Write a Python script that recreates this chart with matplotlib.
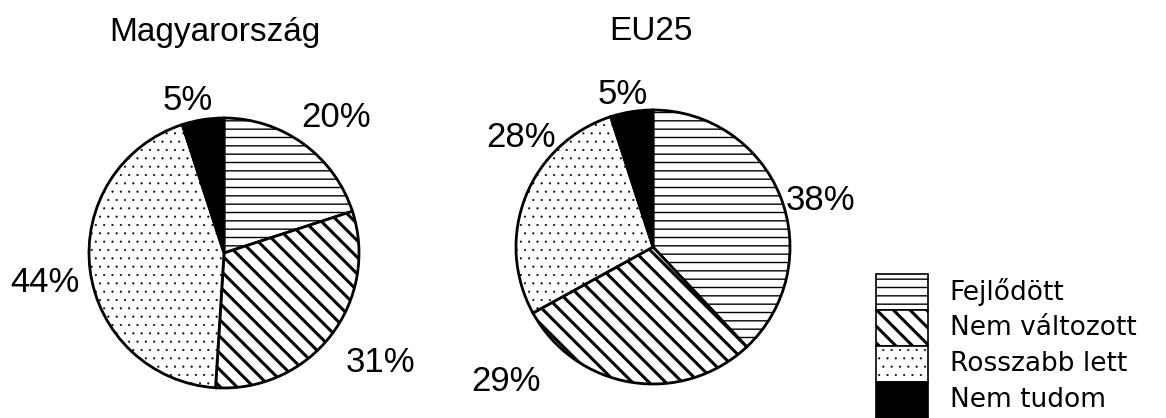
import matplotlib.pyplot as plt
from matplotlib.patches import Rectangle

plt.rcParams['font.family'] = ['Liberation Sans', 'DejaVu Sans']
plt.rcParams['hatch.linewidth'] = 1.2

categories = ['Fejlődött', 'Nem változott', 'Rosszabb lett', 'Nem tudom']
hu_values = [20, 31, 44, 5]
eu_values = [38, 29, 28, 5]
titles = ['Magyarország', 'EU25']

hatches = ['--', '\\\\', '..', None]
hatch_lw = [1.0, 2.2, 0.3, 1.0]
fills = ['white', 'white', 'white', 'black']

# label offsets relative to pie centre (in radii)
hu_label_pos = [(0.83, 1.0), (1.16, -0.81), (-1.33, -0.22), (-0.27, 1.13)]
eu_label_pos = [(1.22, 0.34), (-1.07, -0.98), (-0.96, 0.80), (-0.22, 1.11)]

W, H = 1166, 418
fig = plt.figure(figsize=(W / 100, H / 100), dpi=100)


def style_hatch(patch, h, lw):
    if h:
        patch.set_hatch(h)
        if hasattr(patch, 'set_hatch_linewidth'):
            patch.set_hatch_linewidth(lw)


def pie_axes(cx, cy, r):
    # cx, cy in pixels from top-left
    return fig.add_axes([(cx - r) / W, (H - cy - r) / H, 2 * r / W, 2 * r / H])


def draw_pie(ax, values, label_pos):
    wedges, _ = ax.pie(values, startangle=90, counterclock=False,
                       colors=fills, radius=1,
                       wedgeprops=dict(edgecolor='black', linewidth=2.0))
    for w, h, lw in zip(wedges, hatches, hatch_lw):
        style_hatch(w, h, lw)
    for v, (x, y) in zip(values, label_pos):
        ax.text(x, y, f'{v}%', ha='center', va='center', fontsize=25,
                clip_on=False)
    ax.set_xlim(-1, 1)
    ax.set_ylim(-1, 1)
    ax.axis('off')


ax1 = pie_axes(224, 253, 135)
draw_pie(ax1, hu_values, hu_label_pos)
ax2 = pie_axes(653, 247, 137)
draw_pie(ax2, eu_values, eu_label_pos)

fig.text(215 / W, 1 - 32 / H, titles[0], ha='center', va='center', fontsize=24)
fig.text(651 / W, 1 - 32 / H, titles[1], ha='center', va='center', fontsize=24)

# legend drawn as stacked swatches
lax = fig.add_axes([876 / W, 0, 52 / W, 144 / H])
lax.set_xlim(0, 1)
lax.set_ylim(0, 4)
lax.axis('off')
for i, (cat, h, lw, fc) in enumerate(zip(categories, hatches, hatch_lw, fills)):
    y = 3 - i
    r = Rectangle((0, y), 1, 1, facecolor=fc, edgecolor='black',
                  linewidth=1.2, clip_on=False)
    style_hatch(r, h, lw)
    lax.add_patch(r)
    lax.text(1.42, y + 0.5, cat, ha='left', va='center', fontsize=19,
             family='DejaVu Sans', clip_on=False)

fig.savefig('out.png', dpi=100)
